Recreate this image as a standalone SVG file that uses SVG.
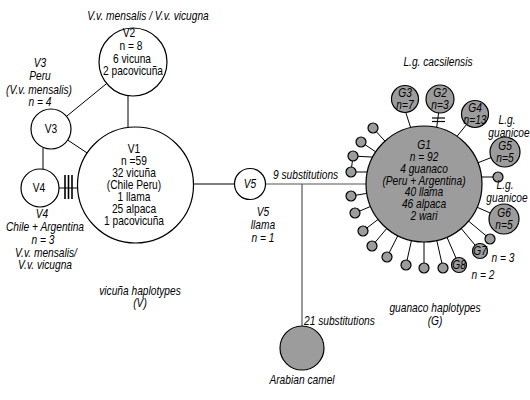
<svg xmlns="http://www.w3.org/2000/svg" width="530" height="400" viewBox="0 0 530 400">
<style>
text{font-family:"Liberation Sans",Arial,sans-serif;font-size:12px;text-anchor:middle;fill:#000}
.i{font-style:italic}
.l{text-anchor:start}
.w{fill:#fff;stroke:#000;stroke-width:1.2}
.g{fill:#9c9c9c;stroke:#000;stroke-width:1.2}
.c{stroke:#000;stroke-width:1;fill:none}
.s{stroke:#555;stroke-width:1.2;fill:none}
.tk{stroke:#000;stroke-width:1.6}
</style>
<rect width="530" height="400" fill="#fff"/>
<g id="connectors">
<line class="c" x1="128" y1="96" x2="128" y2="128"/>
<line class="c" x1="133" y1="62" x2="51" y2="129"/>
<line class="c" x1="51" y1="129" x2="135.5" y2="185"/>
<line class="c" x1="43" y1="148" x2="43" y2="171"/>
<line class="c" x1="40" y1="188" x2="100" y2="188"/>
<line class="tk" x1="65" y1="175" x2="65" y2="199"/>
<line class="tk" x1="68.5" y1="175" x2="68.5" y2="199"/>
<line class="tk" x1="72" y1="175" x2="72" y2="199"/>
<line class="c" x1="135" y1="184" x2="250" y2="184"/>
<line class="s" x1="265" y1="184" x2="400" y2="184"/>
<line class="s" x1="302" y1="184" x2="302" y2="340"/>
<line class="c" x1="405" y1="110" x2="413" y2="135"/>
<line class="c" x1="439" y1="110" x2="435" y2="140"/>
<line class="tk" x1="432" y1="118" x2="445" y2="118" style="stroke-width:1.2"/>
<line class="tk" x1="432" y1="121.5" x2="445" y2="121.5" style="stroke-width:1.2"/>
<line class="c" x1="475" y1="114" x2="450" y2="145"/>
<line class="c" x1="505" y1="152" x2="470" y2="166"/>
<line class="c" x1="498" y1="177" x2="470" y2="177"/>
<line class="c" x1="504" y1="219" x2="424" y2="184"/>
<line class="c" x1="490" y1="239" x2="424" y2="184"/>
<line class="c" x1="480" y1="251" x2="424" y2="184"/>
<line class="c" x1="459" y1="265" x2="424" y2="184"/>
<line class="c" x1="443" y1="268" x2="424" y2="184"/>
<line class="c" x1="424" y1="268" x2="424" y2="184"/>
<line class="c" x1="406" y1="265" x2="424" y2="184"/>
<line class="c" x1="387" y1="257" x2="424" y2="184"/>
<line class="c" x1="372" y1="246" x2="424" y2="184"/>
<line class="c" x1="363" y1="231" x2="424" y2="184"/>
<line class="c" x1="355" y1="213" x2="424" y2="184"/>
<line class="c" x1="351" y1="196" x2="424" y2="184"/>
<line class="c" x1="351" y1="172" x2="424" y2="172"/>
<line class="c" x1="353" y1="156" x2="424" y2="160"/>
<line class="c" x1="353" y1="156" x2="351" y2="172"/>
<line class="c" x1="361" y1="142" x2="424" y2="184"/>
<line class="c" x1="373" y1="128" x2="424" y2="184"/>
</g>
<g id="V1"><circle class="w" cx="135.5" cy="185" r="58"/>
<text transform="translate(134 153) scale(0.85 1)">V1</text><text transform="translate(134 165) scale(0.85 1)">n =59</text><text transform="translate(134 177) scale(0.85 1)">32 vicuña</text><text transform="translate(134 189) scale(0.85 1)">(Chile Peru)</text><text transform="translate(134 201) scale(0.85 1)">1 llama</text><text transform="translate(134 213) scale(0.85 1)">25 alpaca</text><text transform="translate(134 225) scale(0.85 1)">1 pacovicuña</text></g>
<g id="V2"><circle class="w" cx="133" cy="62" r="34"/>
<text transform="translate(129 37) scale(0.85 1)">V2</text><text transform="translate(131 50) scale(0.85 1)">n = 8</text><text transform="translate(132 62.5) scale(0.85 1)">6 vicuna</text><text transform="translate(133 75) scale(0.85 1)">2 pacovicuña</text></g>
<g id="V3"><circle class="w" cx="51" cy="129" r="20"/><text transform="translate(51 133) scale(0.85 1)">V3</text></g>
<g id="V4"><circle class="w" cx="40" cy="188" r="19"/><text transform="translate(39 192) scale(0.85 1)">V4</text></g>
<g id="V5"><circle class="w" cx="250" cy="184" r="15.5"/><text class="i" transform="translate(250 188) scale(0.85 1)">V5</text></g>
<g id="camel"><circle class="g" cx="302" cy="348" r="22"/></g>
<g id="G1"><circle class="g" cx="424" cy="184" r="58"/>
<text class="i" transform="translate(424 149) scale(0.85 1)">G1</text><text class="i" transform="translate(424 161) scale(0.85 1)">n = 92</text><text class="i" transform="translate(424 172.5) scale(0.85 1)">4 guanaco</text><text class="i" transform="translate(424 184.5) scale(0.85 1)">(Peru + Argentina)</text><text class="i" transform="translate(424 196) scale(0.85 1)">40 llama</text><text class="i" transform="translate(424 208) scale(0.85 1)">46 alpaca</text><text class="i" transform="translate(424 219.5) scale(0.85 1)">2 wari</text></g>
<g id="G2"><circle class="g" cx="440" cy="99" r="14"/><text class="i" transform="translate(440 97) scale(0.85 1)">G2</text><text class="i" transform="translate(440 109) scale(0.85 1)">n=3</text></g>
<g id="G3"><circle class="g" cx="405" cy="99" r="13.5"/><text class="i" transform="translate(405 97) scale(0.85 1)">G3</text><text class="i" transform="translate(405 109) scale(0.85 1)">n=7</text></g>
<g id="G4"><circle class="g" cx="475" cy="114" r="13.5"/><text class="i" transform="translate(475 112) scale(0.85 1)">G4</text><text class="i" transform="translate(475 124) scale(0.85 1)">n=13</text></g>
<g id="G5"><circle class="g" cx="505" cy="152" r="15"/><text class="i" transform="translate(505 150) scale(0.85 1)">G5</text><text class="i" transform="translate(505 162) scale(0.85 1)">n=5</text></g>
<g id="G6"><circle class="g" cx="504" cy="219" r="15"/><text class="i" transform="translate(504 217) scale(0.85 1)">G6</text><text class="i" transform="translate(504 229) scale(0.85 1)">n=5</text></g>
<g id="G7"><circle class="g" cx="480" cy="251" r="7.5"/><text class="i" transform="translate(480 255) scale(0.85 1)">G7</text></g>
<g id="G8"><circle class="g" cx="459" cy="265" r="7.5"/><text class="i" transform="translate(459 269) scale(0.85 1)">G8</text></g>
<g id="small-haplotypes">
<g id="s1"><circle class="g" cx="373" cy="128" r="5"/></g>
<g id="s2"><circle class="g" cx="361" cy="142" r="5"/></g>
<g id="s3"><circle class="g" cx="353" cy="156" r="5"/></g>
<g id="s4"><circle class="g" cx="351" cy="172" r="5"/></g>
<g id="s5"><circle class="g" cx="351" cy="196" r="5"/></g>
<g id="s6"><circle class="g" cx="355" cy="213" r="5"/></g>
<g id="s7"><circle class="g" cx="363" cy="231" r="5"/></g>
<g id="s8"><circle class="g" cx="372" cy="246" r="5"/></g>
<g id="s9"><circle class="g" cx="387" cy="257" r="5"/></g>
<g id="s10"><circle class="g" cx="406" cy="265" r="5"/></g>
<g id="s11"><circle class="g" cx="424" cy="268" r="5"/></g>
<g id="s12"><circle class="g" cx="443" cy="268" r="5"/></g>
<g id="s13"><circle class="g" cx="490" cy="239" r="5"/></g>
<g id="s14"><circle class="g" cx="498" cy="177" r="5"/></g>
</g>
<g id="labels">
<text class="i" transform="translate(148 20) scale(0.85 1)">V.v. mensalis / V.v. vicugna</text>
<text class="i" transform="translate(40 67) scale(0.85 1)">V3</text><text class="i" transform="translate(40 80) scale(0.85 1)">Peru</text><text class="i" transform="translate(39 94) scale(0.85 1)">(V.v. mensalis)</text><text class="i" transform="translate(40 106) scale(0.85 1)">n = 4</text>
<text class="i" transform="translate(42 218) scale(0.85 1)">V4</text><text class="i" transform="translate(45 231) scale(0.85 1)">Chile + Argentina</text><text class="i" transform="translate(43 244) scale(0.85 1)">n = 3</text><text class="i" transform="translate(46 257) scale(0.85 1)">V.v. mensalis/</text><text class="i" transform="translate(45 269) scale(0.85 1)">V.v. vicugna</text>
<text class="i" transform="translate(263 216) scale(0.85 1)">V5</text><text class="i" transform="translate(263 229) scale(0.85 1)">llama</text><text class="i" transform="translate(263 242) scale(0.85 1)">n = 1</text>
<text class="i" transform="translate(140 295) scale(0.85 1)">vicuña haplotypes</text><text class="i" transform="translate(140 307) scale(0.85 1)">(V)</text>
<text class="i" transform="translate(435 312) scale(0.85 1)">guanaco haplotypes</text><text class="i" transform="translate(435 325) scale(0.85 1)">(G)</text>
<text class="i l" transform="translate(273 179) scale(0.85 1)">9 substitutions</text>
<text class="i l" transform="translate(304 325) scale(0.85 1)">21 substitutions</text>
<text class="i" transform="translate(302 384) scale(0.85 1)">Arabian camel</text>
<text class="i" transform="translate(438 66) scale(0.85 1)">L.g. cacsilensis</text>
<text class="i" transform="translate(507 124) scale(0.85 1)">L.g.</text><text class="i" transform="translate(509 137) scale(0.85 1)">guanicoe</text>
<text class="i" transform="translate(505 189) scale(0.85 1)">L.g.</text><text class="i" transform="translate(507 202) scale(0.85 1)">guanicoe</text>
<text class="i" transform="translate(503 262) scale(0.85 1)">n = 3</text><text class="i" transform="translate(483 279) scale(0.85 1)">n = 2</text>
</g>
</svg>
